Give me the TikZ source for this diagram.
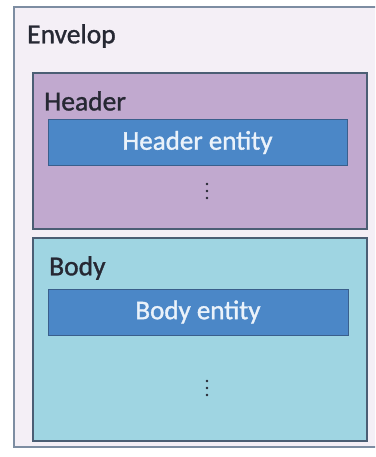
\documentclass[tikz,border=0pt]{standalone}
\usepackage{fontspec}
\setmainfont[FakeBold=1.2]{Carlito}
\definecolor{envfill}{HTML}{F4EFF6}
\definecolor{envline}{HTML}{7D8DA2}
\definecolor{hdrfill}{HTML}{C1A9CF}
\definecolor{bodyfill}{HTML}{9FD5E2}
\definecolor{boxline}{HTML}{4B5E74}
\definecolor{entfill}{HTML}{4B87C7}
\definecolor{entline}{HTML}{3A5F8C}
\definecolor{lbl}{HTML}{262833}
\definecolor{enttext}{HTML}{EAF2FA}
\begin{document}
\begin{tikzpicture}[x=1pt,y=-1pt,
  envbox/.style={draw=envline,line width=2pt,fill=envfill,inner sep=0pt},
  partbox/.style={draw=boxline,line width=1.6pt,inner sep=0pt},
  entbox/.style={draw=entline,line width=1pt,fill=entfill,inner sep=0pt,
    text=enttext,font=\fontsize{27}{30}\selectfont},
  lab/.style={anchor=west,text=lbl,font=\fontsize{27.5}{30}\selectfont,inner sep=0pt},
  dot/.style={fill=lbl}]
\useasboundingbox (0,0) rectangle (375,457);
\fill[white] (0,0) rectangle (375,457);
\begin{scope}
\clip (0,0) rectangle (375,457);
\node[envbox,minimum width=371pt,minimum height=440pt] (env) at (199.5,227) {};
\end{scope}
\node[lab] (envlabel) at (27,36) {Envelop};
\node[partbox,fill=hdrfill,minimum width=334pt,minimum height=156pt] (header) at (200,151) {};
\node[lab] (hdrlabel) at (44,101) {Header};
\node[entbox,minimum width=299pt,minimum height=45pt] (hent) at (197.5,142.5) {Header entity};
\coordinate (hdots) at (207,191);
\fill[dot] (hdots) ++(0,-7) circle (1.3) (hdots) circle (1.3) (hdots) ++(0,7) circle (1.3);
\node[partbox,fill=bodyfill,minimum width=334pt,minimum height=203pt] (body) at (200,339.5) {};
\node[lab] (bodylabel) at (49,268) {Body};
\node[entbox,minimum width=300pt,minimum height=46pt] (bent) at (198,312) {Body entity};
\coordinate (bdots) at (207,388);
\fill[dot] (bdots) ++(0,-7) circle (1.3) (bdots) circle (1.3) (bdots) ++(0,7) circle (1.3);
\end{tikzpicture}
\end{document}
